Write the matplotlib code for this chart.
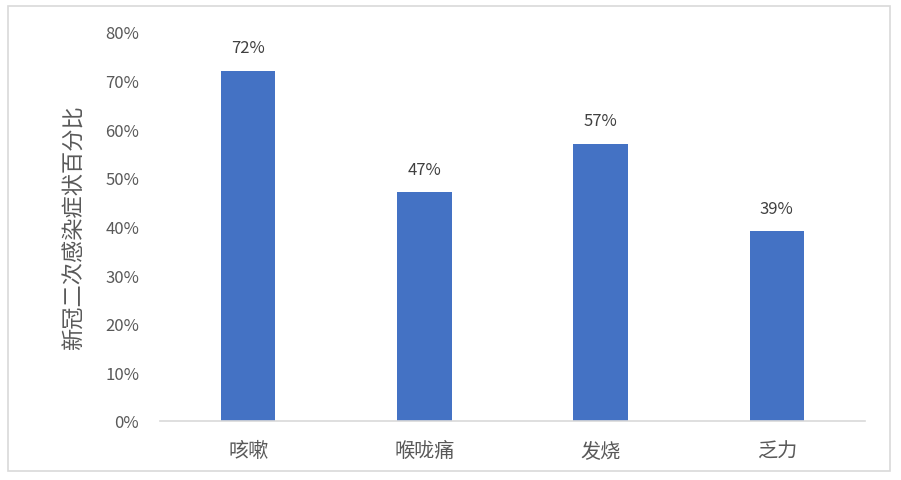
import matplotlib.pyplot as plt
from matplotlib.patches import Rectangle

plt.rcParams['font.family'] = ['Noto Sans CJK SC', 'DejaVu Sans']

# 数据
categories = ['咳嗽', '喉咙痛', '发烧', '乏力']
values = [72, 47, 57, 39]
yticks = [0, 10, 20, 30, 40, 50, 60, 70, 80]
ylabel = '新冠二次感染症状百分比'

fig = plt.figure(figsize=(9.01, 4.81), dpi=100)
ax = fig.add_axes([0.1776, 0.1227, 0.7824, 0.8087])

# 外框
fig.patches.append(Rectangle((8 / 901, 1 - 472 / 481), 882 / 901, 465 / 481,
                             transform=fig.transFigure, fill=False,
                             edgecolor='#D9D9D9', linewidth=1.2))

x = range(len(categories))
bars = ax.bar(x, values, width=0.31, color='#4472C4')
for b, v in zip(bars, values):
    ax.text(b.get_x() + b.get_width() / 2, v + 3.0, f'{v}%',
            ha='center', va='bottom', fontsize=12, color='#404040')

ax.set_xlim(-0.5, len(categories) - 0.5)
ax.set_ylim(0, 80)
ax.set_yticks(yticks)
ax.set_yticklabels([f'{t}%' for t in yticks], fontsize=12, color='#595959')
ax.set_xticks(list(x))
ax.set_xticklabels(categories, fontsize=14.5, color='#595959')
ax.tick_params(axis='both', length=0)
ax.tick_params(axis='y', pad=15)
ax.tick_params(axis='x', pad=14)

for s in ['top', 'right', 'left']:
    ax.spines[s].set_visible(False)
ax.spines['bottom'].set_color('#D9D9D9')
ax.spines['bottom'].set_linewidth(1.2)

ax.set_ylabel(ylabel, fontsize=16, color='#595959', labelpad=14)

fig.savefig('out.png', dpi=100)
